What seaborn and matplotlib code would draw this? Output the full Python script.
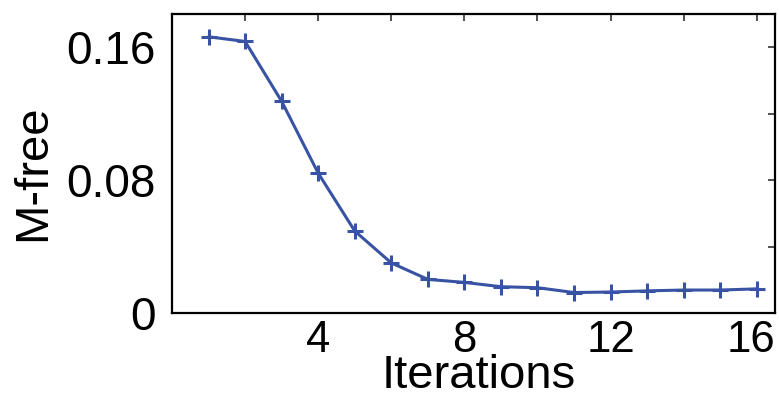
import matplotlib
matplotlib.use("Agg")
import matplotlib.pyplot as plt
import matplotlib.transforms as mtransforms
import seaborn as sns
import pandas as pd
from matplotlib.ticker import FixedLocator

iterations = [1, 2, 3, 4, 5, 6, 7, 8, 9, 10, 11, 12, 13, 14, 15, 16]
m_free = [0.1663, 0.1635, 0.1275, 0.0843, 0.0495, 0.0303, 0.0204, 0.0186,
          0.0160, 0.0154, 0.0125, 0.0128, 0.0135, 0.0140, 0.0140, 0.0147]
x_ticks = [4, 8, 12, 16]
y_ticks = [0, 0.08, 0.16]
y_tick_labels = ["0", "0.08", "0.16"]

sns.set_style("white")
plt.rcParams['font.family'] = ['Liberation Sans', 'DejaVu Sans']
plt.rcParams['text.color'] = 'black'
plt.rcParams['axes.labelcolor'] = 'black'
plt.rcParams['xtick.color'] = 'black'
plt.rcParams['ytick.color'] = 'black'

df = pd.DataFrame({"Iterations": iterations, "M-free": m_free})

fig = plt.figure(figsize=(7.79, 3.97), dpi=100)
ax = fig.add_axes([0.2208, 0.2108, 0.7741, 0.7539])
sns.lineplot(data=df, x="Iterations", y="M-free", ax=ax, color="#3853a4",
             linewidth=2.2, marker="+", markersize=12, markeredgewidth=2.2,
             markeredgecolor="#3853a4")

ax.set_xlim(0, 16.5)
ax.set_ylim(0, 0.18)
ax.xaxis.set_major_locator(FixedLocator(x_ticks))
ax.xaxis.set_minor_locator(FixedLocator([2, 6, 10, 14]))
ax.yaxis.set_major_locator(FixedLocator(y_ticks))
ax.set_yticklabels(y_tick_labels)
ax.yaxis.set_minor_locator(FixedLocator([0.04, 0.12]))

ax.tick_params(which="both", direction="in", top=True, right=True,
               length=5, width=1.2, color="#333333")
ax.tick_params(axis="y", which="major", labelsize=33, labelcolor="black", pad=12)
ax.tick_params(axis="x", which="major", labelsize=31.5, labelcolor="black", pad=5)

# nudge the last x tick label left so it stays inside the canvas
last_lbl = ax.get_xticklabels()[-1]
last_lbl.set_transform(last_lbl.get_transform() +
                       mtransforms.ScaledTranslation(-6 / 100, 0, fig.dpi_scale_trans))

for s in ax.spines.values():
    s.set_visible(True)
    s.set_linewidth(1.6)
    s.set_color("black")

ax.set_xlabel("Iterations", fontsize=34, color="black")
ax.set_ylabel("M-free", fontsize=34, color="black")
ax.xaxis.set_label_coords(0.508, -0.135)
ax.yaxis.set_label_coords(-0.193, 0.47)

fig.savefig("out.png", dpi=100)
